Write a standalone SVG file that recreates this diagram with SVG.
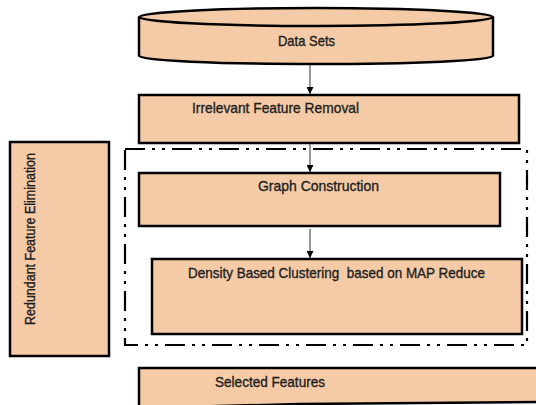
<svg xmlns="http://www.w3.org/2000/svg" width="536" height="405" viewBox="0 0 536 405">
<style>
.box{fill:#F5CBA7;stroke:#000;stroke-width:2.5}
.lbl{font-family:"Liberation Sans",Arial,sans-serif;font-size:14.5px;fill:#1e1e1e;stroke:#1e1e1e;stroke-width:0.35;white-space:pre}
.con{stroke:#333;stroke-width:1;fill:none;marker-end:url(#ah)}
</style>
<defs>
<marker id="ah" viewBox="0 0 10 10" refX="10" refY="5" markerWidth="7" markerHeight="7" markerUnits="userSpaceOnUse" orient="auto">
<path d="M0,0 L10,5 L0,10 z" fill="#000"/>
</marker>
</defs>
<rect width="536" height="405" fill="#fff"/>
<g id="frame">
<rect x="125" y="149" width="402" height="196" fill="none" stroke="#000" stroke-width="2.2" stroke-dasharray="20 7 3 7 3 7"/>
</g>
<g id="datasets">
<path class="box" d="M139,17 L139,56 A177,8 0 0 0 493,56 L493,17"/>
<ellipse class="box" cx="316" cy="17" rx="177" ry="9"/>
<text class="lbl" x="306.5" y="46" text-anchor="middle" textLength="57" lengthAdjust="spacingAndGlyphs">Data Sets</text>
</g>
<g id="irrelevant">
<rect class="box" x="139" y="95" width="380" height="48"/>
<text class="lbl" x="192" y="113" textLength="167" lengthAdjust="spacingAndGlyphs">Irrelevant Feature Removal</text>
</g>
<g id="redundant">
<rect class="box" x="10" y="142" width="99" height="214"/>
<text class="lbl" transform="translate(35,325) rotate(-90)" x="0" y="0" textLength="172" lengthAdjust="spacingAndGlyphs">Redundant Feature Elimination</text>
</g>
<g id="graph">
<rect class="box" x="139" y="173" width="361" height="53"/>
<text class="lbl" x="258" y="191" textLength="121" lengthAdjust="spacingAndGlyphs">Graph Construction</text>
</g>
<g id="density">
<rect class="box" x="152" y="259" width="370" height="75"/>
<text class="lbl" x="188" y="278" textLength="297" lengthAdjust="spacingAndGlyphs" xml:space="preserve">Density Based Clustering  based on MAP Reduce</text>
</g>
<g id="selected">
<path class="box" d="M139,408 L139,368 L540,368 L540,402 L300,404 Z"/>
<text class="lbl" x="215" y="387" textLength="110" lengthAdjust="spacingAndGlyphs">Selected Features</text>
</g>
<g id="connectors">
<line class="con" x1="310" y1="65" x2="310" y2="94"/>
<line class="con" x1="310" y1="144" x2="310" y2="172"/>
<line class="con" x1="310" y1="229" x2="310" y2="258"/>
</g>
</svg>
